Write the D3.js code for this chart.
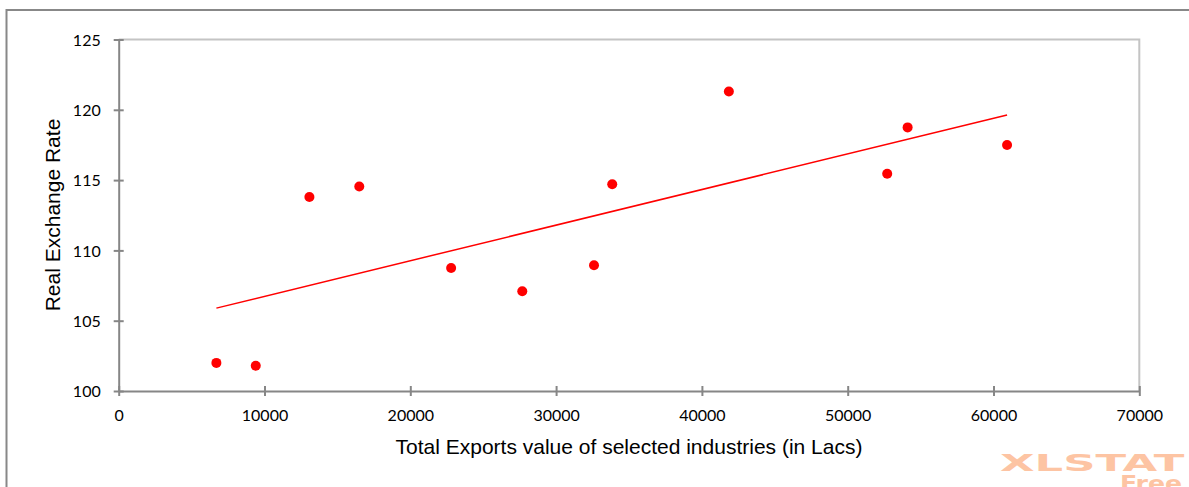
<!DOCTYPE html>
<html>
<head>
<meta charset="utf-8">
<script src="https://cdn.jsdelivr.net/npm/d3@7"></script>
<style>
  html, body { margin: 0; padding: 0; background: #fff; }
  svg { display: block; }
</style>
</head>
<body>
<svg id="chart" width="1189" height="487"></svg>
<script>
// Total exports of selected industries (in Lacs) vs. real exchange rate
const exportsValue = [6700, 9400, 13080, 16500, 22800, 27680, 32600, 33850, 41850, 52710, 54110, 60930];
const exchangeRate = [102.0, 101.8, 113.8, 114.55, 108.75, 107.1, 108.95, 114.7, 121.3, 115.45, 118.75, 117.5];
const xTicks = [0, 10000, 20000, 30000, 40000, 50000, 60000, 70000];
const yTicks = [100, 105, 110, 115, 120, 125];
const xTitle = "Total Exports value of selected industries (in Lacs)";
const yTitle = "Real Exchange Rate";

const svg = d3.select("#chart");
const W = 1189, H = 487;
const plotLeft = 118.7, plotRight = 1139.3, plotTop = 39.5, plotBottom = 391;

const x = d3.scaleLinear().domain([0, 70000]).range([plotLeft, plotRight]);
const y = d3.scaleLinear().domain([100, 125]).range([plotBottom, plotTop]);

const axisColor = "#868686";
const tickFont = "Lato, 'Open Sans', sans-serif";
const titleFont = "'Liberation Sans', Arial, sans-serif";

// outer frame (top and left edges)
svg.append("path")
  .attr("d", `M6.5,${H} V10 H${W}`)
  .attr("fill", "none")
  .attr("stroke", "#888")
  .attr("stroke-width", 2);

// plot area frame (top and right edges)
svg.append("path")
  .attr("d", `M${plotLeft},${plotTop} H${plotRight} V${plotBottom}`)
  .attr("fill", "none")
  .attr("stroke", "#c4c4c4")
  .attr("stroke-width", 2);

// x axis with ticks crossing the axis line
const xAxis = svg.append("g").attr("transform", `translate(0,${plotBottom})`)
  .call(d3.axisBottom(x).tickValues(xTicks).tickFormat(d3.format("d")).tickSize(5).tickSizeOuter(0));
xAxis.select(".domain").attr("stroke", axisColor).attr("stroke-width", 2);
xAxis.selectAll(".tick line").attr("stroke", axisColor).attr("stroke-width", 2).attr("y1", -5);
xAxis.selectAll(".tick text")
  .attr("fill", "#000").attr("font-family", tickFont).attr("font-size", 16)
  .attr("y", 0).attr("dy", null)
  .attr("transform", "translate(0,30)");

// y axis with ticks crossing the axis line
const yAxis = svg.append("g").attr("transform", `translate(${plotLeft},0)`)
  .call(d3.axisLeft(y).tickValues(yTicks).tickSize(5).tickSizeOuter(0));
yAxis.select(".domain").attr("stroke", axisColor).attr("stroke-width", 2);
yAxis.selectAll(".tick line").attr("stroke", axisColor).attr("stroke-width", 2).attr("x2", 5).attr("x1", -5);
yAxis.selectAll(".tick text")
  .attr("fill", "#000").attr("font-family", tickFont).attr("font-size", 16)
  .attr("x", -18).attr("dy", "0.36em");

// least-squares trend line over the data range
const mx = d3.mean(exportsValue), my = d3.mean(exchangeRate);
const sxy = d3.sum(exportsValue, (v, i) => (v - mx) * (exchangeRate[i] - my));
const sxx = d3.sum(exportsValue, v => (v - mx) * (v - mx));
const slope = sxy / sxx, intercept = my - slope * mx;
const [x0, x1] = d3.extent(exportsValue);
svg.append("line")
  .attr("x1", x(x0)).attr("y1", y(intercept + slope * x0))
  .attr("x2", x(x1)).attr("y2", y(intercept + slope * x1))
  .attr("stroke", "#ff0000").attr("stroke-width", 1.5);

// observations
svg.append("g").selectAll("circle")
  .data(exportsValue.map((v, i) => [v, exchangeRate[i]]))
  .join("circle")
  .attr("cx", d => x(d[0])).attr("cy", d => y(d[1]))
  .attr("r", 5).attr("fill", "#ff0000");

// axis titles
svg.append("text")
  .attr("x", 629).attr("y", 454)
  .attr("text-anchor", "middle")
  .attr("font-family", titleFont)
  .attr("font-size", 21)
  .text(xTitle);

svg.append("text")
  .attr("transform", "translate(60,215) rotate(-90)")
  .attr("text-anchor", "middle")
  .attr("font-family", titleFont)
  .attr("font-size", 21)
  .text(yTitle);

// XLSTAT watermark
const wm = svg.append("g").attr("fill", "#fdc4a3").attr("font-family", "'DejaVu Sans', sans-serif").attr("font-weight", "bold");
wm.append("text")
  .attr("transform", "translate(1000,471) scale(1.95,1)")
  .attr("font-size", 23)
  .text("XLSTAT");
wm.append("text")
  .attr("transform", "translate(1120,491) scale(1.2,1)")
  .attr("font-size", 21)
  .text("Free");
</script>
</body>
</html>
